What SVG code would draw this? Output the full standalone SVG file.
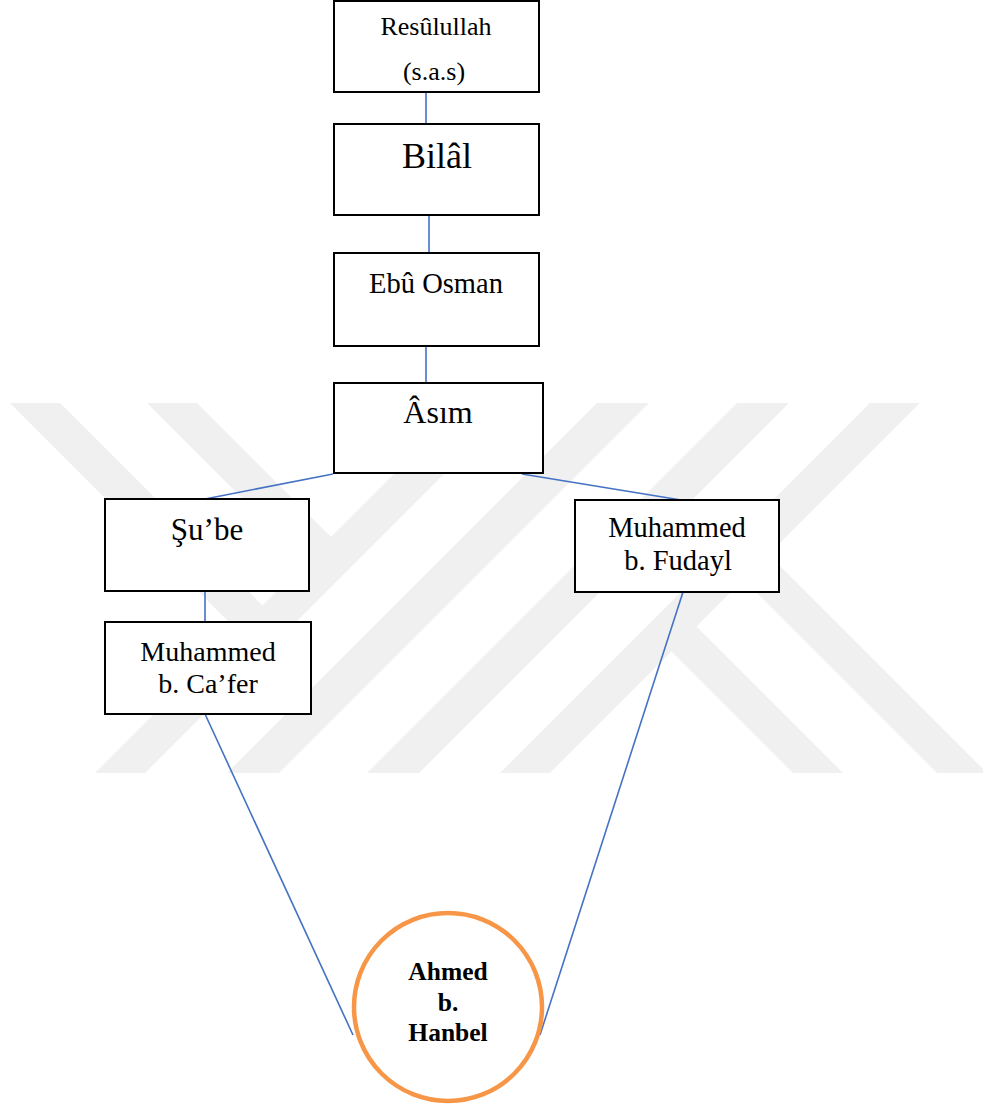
<svg xmlns="http://www.w3.org/2000/svg" width="983" height="1108" viewBox="0 0 983 1108">
<style>
.box{fill:#fff;stroke:#000;stroke-width:2}
.t{font-family:"Liberation Serif","Times New Roman",serif;fill:#000;text-anchor:middle}
.b{font-weight:bold}
.c{stroke:#4472C4;stroke-width:1.6;fill:none}
.wm{fill:#f0f0f0}
</style>
<rect width="983" height="1108" fill="#fff"/>
<g id="watermark">
<polygon class="wm" points="465,403 515,403 145,773 95,773"/>
<polygon class="wm" points="597,403 649,403 279,773 227,773"/>
<polygon class="wm" points="737,403 789,403 419,773 367,773"/>
<polygon class="wm" points="870,403 920,403 550,773 500,773"/>
<polygon class="wm" points="10,403 60,403 275,618 250,643"/>
<polygon class="wm" points="147,403 197,403 343.5,549.5 318.5,574.5"/>
<polygon class="wm" points="659,639 684,614 843,773 793,773"/>
<polygon class="wm" points="731,567 756,542 987,773 937,773"/>
</g>
<g id="connectors">
<line class="c" x1="426" y1="92" x2="426" y2="124"/>
<line class="c" x1="429" y1="215" x2="429" y2="253"/>
<line class="c" x1="426" y1="346" x2="426" y2="383"/>
<line class="c" x1="333" y1="474" x2="205" y2="499"/>
<line class="c" x1="522" y1="474" x2="681" y2="500"/>
<line class="c" x1="205" y1="591" x2="205" y2="622"/>
<line class="c" x1="205" y1="714" x2="353" y2="1035"/>
<line class="c" x1="683" y1="592" x2="540" y2="1035"/>
</g>
<g id="n-resulullah">
<rect class="box" x="334" y="1" width="205" height="91"/>
<text class="t" x="436" y="35" font-size="26">Resûlullah</text>
<text class="t" x="434" y="80" font-size="26">(s.a.s)</text>
</g>
<g id="n-bilal">
<rect class="box" x="334" y="124" width="205" height="91"/>
<text class="t" x="437" y="168" font-size="36">Bilâl</text>
</g>
<g id="n-ebu-osman">
<rect class="box" x="334" y="253" width="205" height="93"/>
<text class="t" x="436" y="293" font-size="28.5">Ebû Osman</text>
</g>
<g id="n-asim">
<rect class="box" x="334" y="383" width="209" height="90"/>
<text class="t" x="438" y="423" font-size="32">Âsım</text>
</g>
<g id="n-sube">
<rect class="box" x="105" y="499" width="204" height="92"/>
<text class="t" x="207" y="540" font-size="31">Şu’be</text>
</g>
<g id="n-muhammed-cafer">
<rect class="box" x="105" y="622" width="206" height="92"/>
<text class="t" x="208" y="661" font-size="28">Muhammed</text>
<text class="t" x="208" y="693" font-size="28">b. Ca’fer</text>
</g>
<g id="n-muhammed-fudayl">
<rect class="box" x="575" y="500" width="204" height="92"/>
<text class="t" x="677" y="537" font-size="28.5">Muhammed</text>
<text class="t" x="678" y="570" font-size="28.5">b. Fudayl</text>
</g>
<g id="n-ahmed">
<circle cx="448" cy="1007" r="94" fill="#fff" stroke="#F79646" stroke-width="4.5"/>
<text class="t b" x="448" y="980" font-size="25.5">Ahmed</text>
<text class="t b" x="448" y="1011" font-size="25.5">b.</text>
<text class="t b" x="448" y="1041" font-size="25.5">Hanbel</text>
</g>
</svg>
